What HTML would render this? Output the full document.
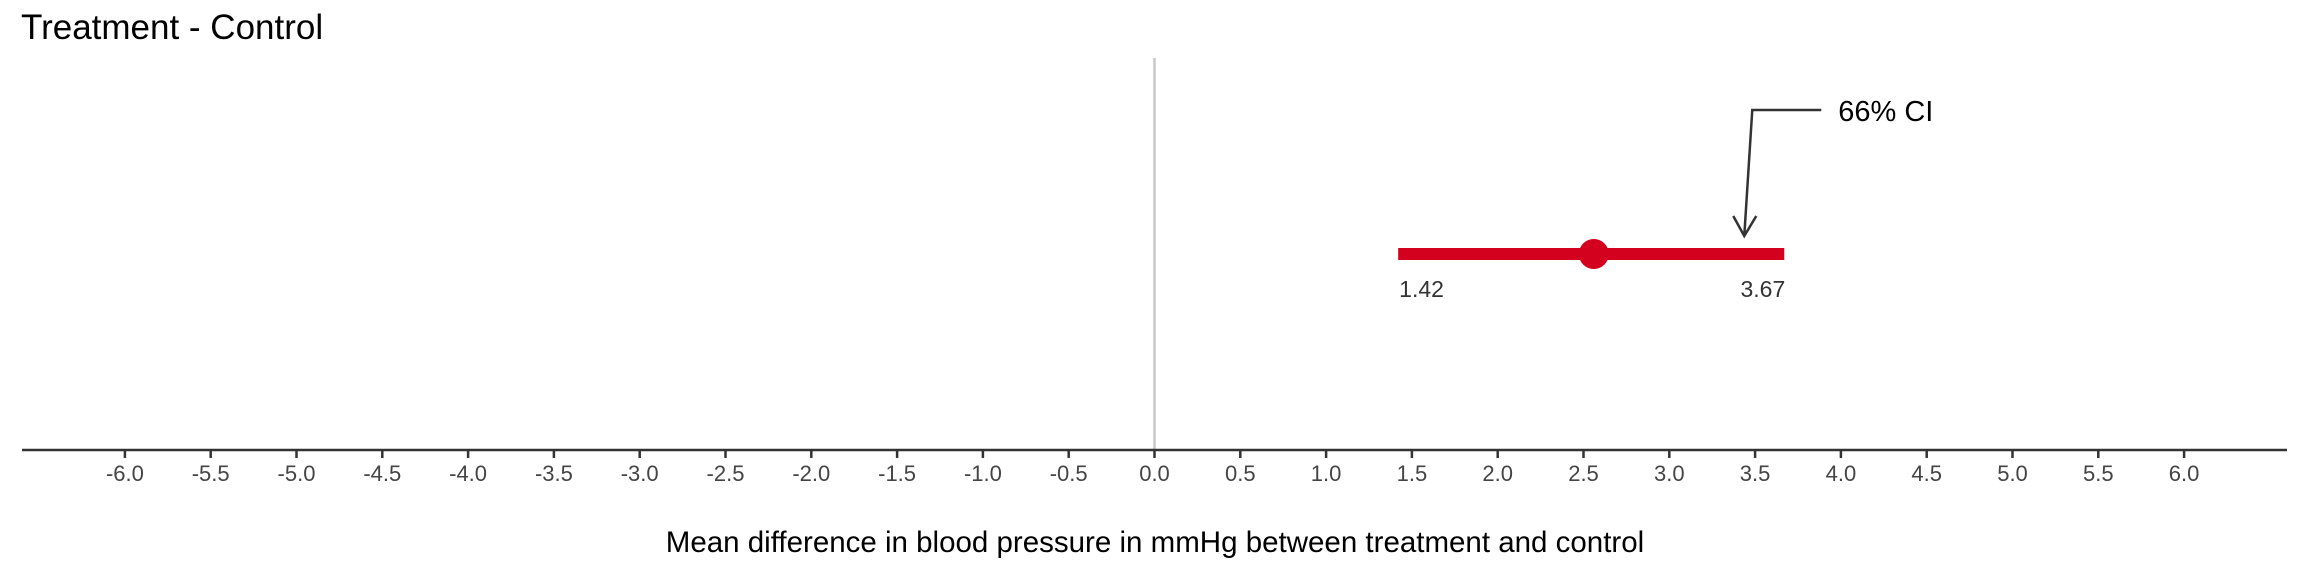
<!DOCTYPE html>
<html><head><meta charset="utf-8"><style>
html,body{margin:0;padding:0;background:#fff;}
svg{display:block;font-family:"Liberation Sans",Arial,sans-serif;}
</style></head><body>
<svg id="chart" width="2304" height="576" viewBox="0 0 2304 576" xmlns="http://www.w3.org/2000/svg">
<text x="21" y="39" font-size="35" fill="#000">Treatment - Control</text>
<g id="axis"></g>
<g id="marks"></g>
<text x="1155" y="552" font-size="29.5" text-anchor="middle" fill="#000">Mean difference in blood pressure in mmHg between treatment and control</text>
</svg>
<script>
const tickValues = [-6,-5.5,-5,-4.5,-4,-3.5,-3,-2.5,-2,-1.5,-1,-0.5,0,0.5,1,1.5,2,2.5,3,3.5,4,4.5,5,5.5,6];
const ciLower = [1.42];
const ciUpper = [3.67];
const pointEstimate = [2.56];
const ciLabel = ["66% CI"];

const NS = "http://www.w3.org/2000/svg";
function x(v){ return 1154.5 + v * 171.6; }
function mk(tag, attrs, parent){ const e=document.createElementNS(NS,tag); for(const k in attrs) e.setAttribute(k,attrs[k]); parent.appendChild(e); return e; }
const axis=document.getElementById('axis');
const marks=document.getElementById('marks');

const zl=mk('line',{x1:x(0),x2:x(0),y1:58,y2:450,stroke:'#c8c8c8','stroke-width':2.5},axis);


const al=mk('line',{x1:22,x2:2287,y1:450,y2:450,stroke:'#333','stroke-width':2.5},axis);


tickValues.forEach(v=>{
  const t=mk('line',{x1:x(v),x2:x(v),y1:450,y2:458,stroke:'#333','stroke-width':2.5},axis);
  
  
  const l=mk('text',{x:x(v),y:481,'font-size':22,'text-anchor':'middle',fill:'#444'},axis);
  l.textContent=v.toFixed(1);
  
  
});

const y0=254;
ciLower.forEach((lo,i)=>{
  const hi=ciUpper[i];
  const bar=mk('line',{x1:x(lo),x2:x(hi),y1:y0,y2:y0,stroke:'#d3001e','stroke-width':12},marks);
  
  
  const pt=mk('circle',{cx:x(pointEstimate[i]),cy:y0,r:15,fill:'#d3001e'},marks);
  
  
  const ll=mk('text',{x:x(lo)+1,y:297,'font-size':23,fill:'#333'},marks);
  ll.textContent=lo.toFixed(2);
  
  
  const ul=mk('text',{x:x(hi)+1,y:297,'font-size':23,'text-anchor':'end',fill:'#333'},marks);
  ul.textContent=hi.toFixed(2);
  
  
  const ax=x(hi)-40;
  const arr=mk('path',{d:`M${ax+77},110 L${ax+8},110 L${ax},236 M${ax-11},216 L${ax},236 L${ax+12},216`,fill:'none',stroke:'#333','stroke-width':2.5},marks);
  
  
  const at=mk('text',{x:ax+94,y:121,'font-size':29,fill:'#000'},marks);
  at.textContent=ciLabel[i];
  
  
});
</script>
</body></html>
